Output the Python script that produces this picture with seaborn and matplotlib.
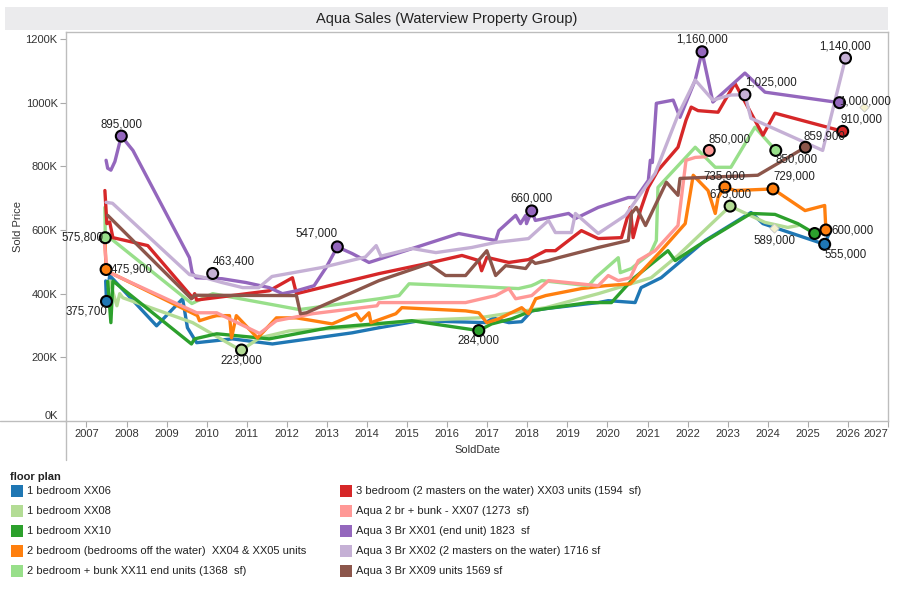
import numpy as np
import pandas as pd
import matplotlib
matplotlib.use('Agg')
import matplotlib.pyplot as plt
import seaborn as sns
from matplotlib.patches import Rectangle
from matplotlib.lines import Line2D
from matplotlib.ticker import FuncFormatter

plans = ['1 bedroom XX06', '1 bedroom XX08', '1 bedroom XX10',
         '2 bedroom (bedrooms off the water)  XX04 & XX05 units',
         '2 bedroom + bunk XX11 end units (1368  sf)',
         '3 bedroom (2 masters on the water) XX03 units (1594  sf)',
         'Aqua 2 br + bunk - XX07 (1273  sf)',
         'Aqua 3 Br XX01 (end unit) 1823  sf',
         'Aqua 3 Br XX02 (2 masters on the water) 1716 sf',
         'Aqua 3 Br XX09 units 1569 sf']
colors = ['#1f77b4', '#b3dc95', '#2ca02c', '#ff7f0e', '#98df8a',
          '#d62728', '#ff9896', '#9467bd', '#c5b0d5', '#8c564b']

# sold dates (decimal years) and prices (thousands)
xx06_year = [2007.48, 2007.50, 2007.58, 2008.75, 2009.40, 2009.52, 2009.75, 2010.64, 2011.64, 2013.63,
             2014.30, 2015.30, 2016.96, 2017.16, 2017.29, 2017.54, 2017.86, 2018.11, 2018.46, 2019.77,
             2020.02, 2020.69, 2020.84, 2021.34, 2022.44, 2023.58, 2023.88, 2025.42, 2025.55]
xx06_price = [440, 376, 457, 299, 384, 293, 246, 258, 242, 277,
              293, 315, 309, 324, 317, 309, 312, 346, 353, 372,
              378, 372, 419, 450, 567, 655, 620, 555, 595]

xx08_year = [2007.55, 2007.58, 2007.76, 2007.83, 2007.91, 2009.65, 2010.74, 2010.87, 2011.32, 2012.06,
             2013.48, 2015.12, 2016.79, 2018.46, 2019.77, 2021.09, 2021.76, 2023.06, 2023.93, 2024.50, 2024.75]
xx08_price = [420, 440, 362, 400, 387, 309, 230, 223, 261, 283,
              293, 315, 324, 356, 400, 450, 520, 675, 624, 608, 614]

xx10_year = [2007.53, 2007.61, 2007.66, 2009.62, 2009.70, 2010.25, 2011.56, 2013.05, 2015.12, 2016.79,
             2017.11, 2017.61, 2018.11, 2018.46, 2019.53, 2020.10, 2020.64, 2021.51, 2021.69, 2022.26,
             2023.58, 2024.18, 2024.75, 2025.17]
xx10_price = [438, 309, 440, 242, 258, 274, 258, 293, 315, 284,
              305, 321, 346, 353, 372, 372, 447, 535, 504, 551,
              652, 649, 620, 589]

xx04_year = [2007.46, 2007.49, 2007.53, 2009.77, 2009.82, 2010.07, 2010.25, 2010.57, 2010.62, 2010.74,
             2011.27, 2011.74, 2012.24, 2013.13, 2013.73, 2013.85, 2014.05, 2014.10, 2014.72, 2014.87,
             2016.46, 2016.79, 2016.99, 2017.29, 2017.86, 2018.03, 2018.21, 2018.46, 2019.35, 2019.95,
             2020.57, 2021.34, 2021.94, 2022.14, 2022.51, 2022.69, 2022.76, 2022.93, 2023.18, 2024.13,
             2024.93, 2025.42, 2025.45]
xx04_price = [576, 476, 470, 331, 315, 325, 331, 331, 261, 331,
              261, 324, 324, 305, 337, 315, 340, 309, 337, 356,
              346, 340, 309, 321, 356, 337, 384, 394, 416, 425,
              431, 535, 620, 772, 724, 652, 702, 735, 724, 729,
              661, 677, 600]

xx11_year = [2007.46, 2007.47, 2007.58, 2009.63, 2010.15, 2012.31, 2014.30, 2014.80, 2015.05, 2016.79,
             2017.78, 2018.10, 2018.21, 2018.36, 2019.53, 2019.70, 2020.27, 2020.32, 2020.60, 2020.77,
             2021.07, 2021.22, 2021.26, 2022.19, 2022.69, 2023.08, 2023.68, 2024.20]
xx11_price = [671, 576, 576, 369, 400, 350, 384, 394, 431, 422,
              416, 425, 431, 441, 425, 450, 513, 466, 479, 497,
              526, 567, 734, 860, 797, 797, 923, 850]

xx03_year = [2007.46, 2007.51, 2007.58, 2007.66, 2008.53, 2009.65, 2009.70, 2009.75, 2011.56, 2012.14,
             2012.24, 2014.30, 2015.47, 2016.37, 2016.79, 2016.86, 2016.99, 2017.54, 2018.03, 2018.46,
             2018.70, 2019.35, 2019.77, 2020.35, 2020.57, 2020.64, 2020.82, 2021.02, 2021.26, 2021.76,
             2021.96, 2022.09, 2022.26, 2022.76, 2023.18, 2023.88, 2024.18, 2025.87]
xx03_price = [724, 620, 625, 576, 551, 387, 400, 380, 409, 450,
              400, 463, 494, 520, 504, 472, 514, 498, 507, 535,
              535, 598, 573, 576, 671, 576, 661, 734, 787, 860,
              945, 986, 975, 970, 1061, 898, 967, 910]

xx07_year = [2007.45, 2007.51, 2009.75, 2010.25, 2011.32, 2011.74, 2012.64, 2014.25, 2014.30, 2016.46,
             2017.21, 2017.54, 2017.71, 2018.11, 2018.53, 2019.77, 2020.02, 2020.27, 2020.57, 2020.77,
             2021.19, 2021.76, 2021.96, 2022.19, 2022.44, 2022.54]
xx07_price = [560, 470, 340, 340, 275, 315, 337, 362, 372, 372,
              394, 416, 384, 394, 441, 425, 457, 441, 450, 504,
              535, 614, 819, 828, 830, 850]

xx01_year = [2007.49, 2007.53, 2007.61, 2007.71, 2007.87, 2008.16, 2009.57, 2009.64, 2009.74, 2010.38,
             2010.98, 2011.56, 2011.89, 2012.24, 2012.68, 2012.98, 2013.26, 2013.63, 2014.05, 2016.29,
             2017.21, 2017.29, 2017.71, 2017.83, 2017.96, 2017.98, 2018.11, 2018.20, 2019.03, 2019.20,
             2019.77, 2020.52, 2020.72, 2021.02, 2021.07, 2021.12, 2021.22, 2021.64, 2021.81, 2022.19,
             2022.36, 2022.63, 2023.43, 2023.93, 2025.79]
xx01_price = [819, 794, 788, 815, 895, 850, 513, 465, 450, 447,
              435, 419, 400, 409, 425, 482, 547, 526, 498, 589,
              567, 598, 646, 620, 646, 620, 660, 630, 652, 636,
              671, 702, 702, 756, 819, 812, 998, 1008, 954, 1071,
              1160, 1002, 1093, 1033, 1000]

xx02_year = [2007.49, 2007.65, 2009.57, 2009.90, 2010.38, 2010.90, 2011.30, 2011.63, 2012.87, 2013.96,
             2014.23, 2014.35, 2015.12, 2015.72, 2016.61, 2017.21, 2018.03, 2018.53, 2018.70, 2019.10,
             2019.20, 2019.77, 2020.45, 2021.19, 2021.76, 2022.19, 2022.63, 2023.08, 2023.43, 2023.58,
             2025.37, 2025.94]
xx02_price = [687, 684, 460, 452, 435, 419, 419, 454, 482, 515,
              551, 518, 542, 529, 545, 561, 573, 630, 592, 592,
              652, 589, 646, 778, 961, 1071, 1008, 1024, 1025, 951,
              850, 1140]

xx09_year = [2007.53, 2009.62, 2009.70, 2012.24, 2012.34, 2012.49, 2014.30, 2015.54, 2015.96, 2016.46,
             2016.99, 2017.21, 2017.46, 2017.96, 2018.11, 2018.20, 2018.53, 2018.78, 2019.77, 2020.52,
             2020.60, 2020.72, 2020.95, 2021.47, 2021.76, 2021.81, 2023.75, 2024.94]
xx09_price = [646, 384, 395, 394, 337, 340, 441, 494, 457, 457,
              535, 457, 488, 479, 504, 495, 504, 513, 545, 567,
              652, 671, 614, 750, 709, 762, 772, 860]

# highlighted sales with value labels
mark_plan = [7, 8, 7, 7, 7, 8, 8, 7, 5, 9, 6, 4, 3, 3, 1, 3, 2, 0, 2, 1, 4, 3, 0]
mark_year = [2007.87, 2010.15, 2013.26, 2018.11, 2022.36, 2023.43, 2025.94, 2025.79, 2025.87, 2024.94,
             2022.54, 2024.20, 2022.93, 2024.13, 2023.06, 2025.45, 2025.17, 2025.42, 2016.79, 2010.87,
             2007.47, 2007.49, 2007.50]
mark_price = [895000, 463400, 547000, 660000, 1160000, 1025000, 1140000, 1000000, 910000, 859900,
              850000, 850000, 735000, 729000, 675000, 600000, 589000, 555000, 284000, 223000,
              575800, 475900, 375700]

# faint forecast markers
faint_year = [2024.15, 2026.39]
faint_price = [605000, 987000]

series = [(xx06_year, xx06_price), (xx08_year, xx08_price), (xx10_year, xx10_price),
          (xx04_year, xx04_price), (xx11_year, xx11_price), (xx03_year, xx03_price),
          (xx07_year, xx07_price), (xx01_year, xx01_price), (xx02_year, xx02_price),
          (xx09_year, xx09_price)]
frames = []
for plan, (yr, pr) in zip(plans, series):
    frames.append(pd.DataFrame({'SoldDate': yr, 'Sold Price': np.array(pr) * 1000.0, 'floor plan': plan}))
df = pd.concat(frames, ignore_index=True)
palette = dict(zip(plans, colors))

sns.set_theme(style='white')
plt.rcParams['font.family'] = ['Liberation Sans', 'DejaVu Sans']

fig = plt.figure(figsize=(9, 6), dpi=100)
ax = fig.add_axes([66 / 900, 1 - 421 / 600, (888 - 66) / 900, (421 - 32) / 600])

sns.lineplot(data=df, x='SoldDate', y='Sold Price', hue='floor plan', hue_order=plans,
             palette=palette, estimator=None, sort=True, linewidth=2.4, legend=False, ax=ax)

ax.scatter(faint_year, faint_price, marker='D', s=22, facecolor='#f4f0cc', edgecolor='#c8c8c8',
           linewidth=0.6, zorder=4)
ax.scatter(mark_year, mark_price, s=62, c=[colors[i] for i in mark_plan], edgecolor='black',
           linewidth=1.5, zorder=5)

# label offsets in pixels (dx, dy) and alignment
offs = [(0, 12, 'center'), (0, 12, 'left'), (0, 13, 'right'), (0, 12, 'center'), (0, 12, 'center'),
        (0, 12, 'left'), (0, 12, 'center'), (0, 1, 'left'), (-2, 12, 'left'), (-2, 11, 'left'),
        (-1, 11, 'left'), (0, -9, 'left'), (0, 11, 'center'), (0, 12, 'left'), (0, 12, 'center'),
        (5, 0, 'left'), (-40, -7, 'center'), (0, -10, 'left'), (0, -10, 'center'), (0, -10, 'center'),
        (-2, 0, 'right'), (5, 0, 'left'), (1, -10, 'right')]
for yr, pr, (dx, dy, ha) in zip(mark_year, mark_price, offs):
    ax.annotate(f'{pr:,.0f}', (yr, pr), xytext=(dx * 0.72, dy * 0.72), textcoords='offset points',
                ha=ha, va='center', fontsize=8.3, color='#222222', zorder=6, annotation_clip=False)

ax.set_xlim(2006.49, 2026.94)
ax.set_ylim(0, 1222000)
ax.set_xticks(range(2007, 2028))
ax.set_xticklabels([str(y) for y in range(2007, 2028)])
ax.get_xticklabels()[-1].set_ha('right')
ax.set_yticks(range(0, 1200001, 200000))
ax.yaxis.set_major_formatter(FuncFormatter(lambda v, p: f'{v / 1000:.0f}K'))
ax.tick_params(axis='both', labelsize=8, labelcolor='#333333', color='#aaaaaa', length=4,
               width=0.8, direction='out', pad=2, left=True, bottom=True)
ax.get_yticklabels()[0].set_va('bottom')
ax.set_xlabel('SoldDate', fontsize=8, color='#333333', labelpad=4)
ax.set_ylabel('Sold Price', fontsize=8, color='#333333', labelpad=2)
for sp in ax.spines.values():
    sp.set_color('#bdbdbd')
    sp.set_linewidth(1.0)

# title band
fig.patches.append(Rectangle((5 / 900, 1 - 30 / 600), 883 / 900, 23 / 600, transform=fig.transFigure,
                             facecolor='#ebebed', edgecolor='none', zorder=0))
fig.text(447 / 900, 1 - 18.5 / 600, 'Aqua Sales (Waterview Property Group)', ha='center', va='center',
         fontsize=10.5, color='#222222')

# pane divider lines
fig.add_artist(Line2D([0, 66 / 900], [1 - 421 / 600] * 2, color='#bdbdbd', lw=1.0))
fig.add_artist(Line2D([66 / 900] * 2, [1 - 460 / 600, 1 - 421 / 600], color='#bdbdbd', lw=1.0))

# legend
fig.text(10 / 900, 1 - 477 / 600, 'floor plan', fontsize=8, fontweight='bold', va='center', color='#222222')
for i, (plan, col) in enumerate(zip(plans, colors)):
    cx = 11 if i < 5 else 340
    cy = 491 + 20 * (i % 5)
    fig.patches.append(Rectangle((cx / 900, 1 - (cy + 6) / 600), 12 / 900, 12 / 600,
                                 transform=fig.transFigure, facecolor=col, edgecolor='none'))
    fig.text((cx + 16) / 900, 1 - cy / 600, plan, fontsize=8, va='center', color='#222222')

fig.savefig('out.png', dpi=100)
